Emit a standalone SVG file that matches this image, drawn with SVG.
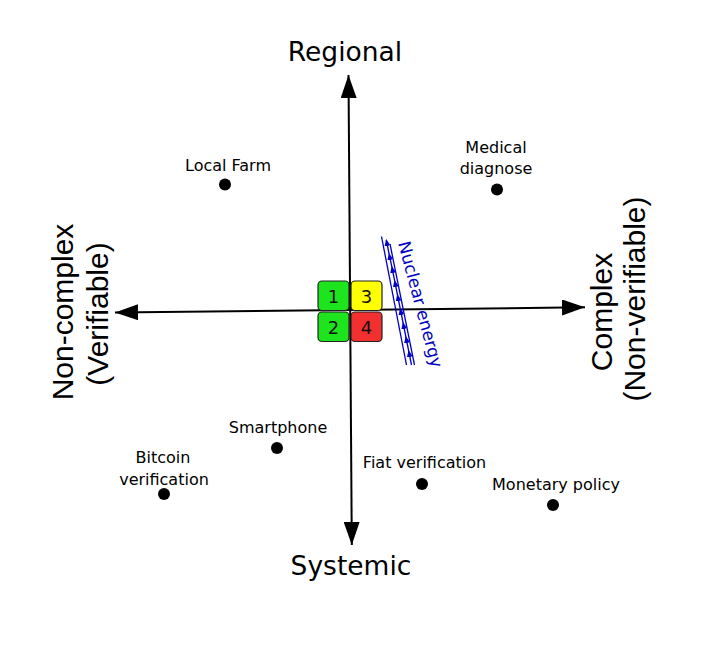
<svg xmlns="http://www.w3.org/2000/svg" width="708" height="649" viewBox="0 0 708 649">
<defs>
<marker id="ax" markerUnits="userSpaceOnUse" markerWidth="24" markerHeight="16" refX="23" refY="8" orient="auto-start-reverse"><path d="M0,0 L23,8 L0,16 z" fill="#000"/></marker>
<marker id="sm" markerUnits="userSpaceOnUse" markerWidth="8" markerHeight="6" refX="6" refY="3" orient="auto"><path d="M0,0 L7,3 L0,6 z" fill="#00c"/></marker>
<style>
.ax{stroke:#000;stroke-width:2;fill:none}
.lbl{font-family:"DejaVu Sans",sans-serif;font-size:16px;fill:#000;text-anchor:middle}
.big{font-family:"DejaVu Sans",sans-serif;font-size:26.5px;fill:#000;text-anchor:middle}
.side{font-family:"Liberation Sans",Arial,sans-serif;font-size:30px;fill:#000;text-anchor:middle}
.box{stroke:#222;stroke-width:1.2}
.num{font-family:"DejaVu Sans",sans-serif;font-size:18px;fill:#111;text-anchor:middle}
.nuc{stroke:#0000c0;stroke-width:1.3;fill:none}
</style>
</defs>
<rect width="708" height="649" fill="#fff"/>
<g id="connectors">
<line class="ax" x1="351.8" y1="545" x2="348.5" y2="75" marker-start="url(#ax)" marker-end="url(#ax)"/>
<line class="ax" x1="115" y1="312.5" x2="585" y2="307.3" marker-start="url(#ax)" marker-end="url(#ax)"/>
</g>
<g id="axis-labels">
<text class="big" x="345" y="61">Regional</text>
<text class="big" x="351" y="575">Systemic</text>
<text class="side" transform="translate(73,312) rotate(-90)">Non-complex</text>
<text class="side" transform="translate(108,314) rotate(-90)">(Verifiable)</text>
<text class="side" transform="translate(612,312) rotate(-90)">Complex</text>
<text class="side" transform="translate(645,299) rotate(-90)">(Non-verifiable)</text>
</g>
<g id="quadrants">
<g id="q1"><rect class="box" x="318" y="281" width="31" height="29.5" rx="4" fill="#1ee41e"/><text class="num" x="333.5" y="302.5">1</text></g>
<g id="q2"><rect class="box" x="318" y="312" width="31" height="29.5" rx="4" fill="#1ee41e"/><text class="num" x="333.5" y="333.5">2</text></g>
<g id="q3"><rect class="box" x="351" y="281" width="31" height="29.5" rx="4" fill="#ffff00"/><text class="num" x="366.5" y="302.5">3</text></g>
<g id="q4"><rect class="box" x="351" y="312" width="31" height="29.5" rx="4" fill="#f23030"/><text class="num" x="366.5" y="333.5">4</text></g>
</g>
<g id="nuclear-energy">
<line class="nuc" x1="381.5" y1="236.5" x2="406.5" y2="365"/>
<polyline class="nuc" points="411.5,365 408.7,351 405.9,337 403.1,323 400.3,309 397.5,295 394.7,281 391.9,267 389.1,254 386.3,240" marker-mid="url(#sm)" marker-end="url(#sm)"/>
<line class="nuc" x1="390" y1="244" x2="414.5" y2="365"/>
<text transform="translate(398,243) rotate(75)" style="font-family:'DejaVu Sans',sans-serif;font-size:17px;fill:#0000c0">Nuclear energy</text>
</g>
<g id="local-farm"><circle cx="225" cy="184.5" r="6"/><text class="lbl" x="228" y="171">Local Farm</text></g>
<g id="medical-diagnose"><circle cx="497" cy="189.5" r="6"/><text class="lbl" x="496" y="153">Medical</text><text class="lbl" x="496" y="174">diagnose</text></g>
<g id="smartphone"><circle cx="277" cy="448" r="6"/><text class="lbl" x="278" y="433">Smartphone</text></g>
<g id="bitcoin-verification"><circle cx="164" cy="494" r="6"/><text class="lbl" x="163" y="463">Bitcoin</text><text class="lbl" x="164" y="485">verification</text></g>
<g id="fiat-verification"><circle cx="422" cy="484" r="6"/><text class="lbl" x="424.5" y="468">Fiat verification</text></g>
<g id="monetary-policy"><circle cx="553" cy="505" r="6"/><text class="lbl" x="556" y="490">Monetary policy</text></g>
</svg>
